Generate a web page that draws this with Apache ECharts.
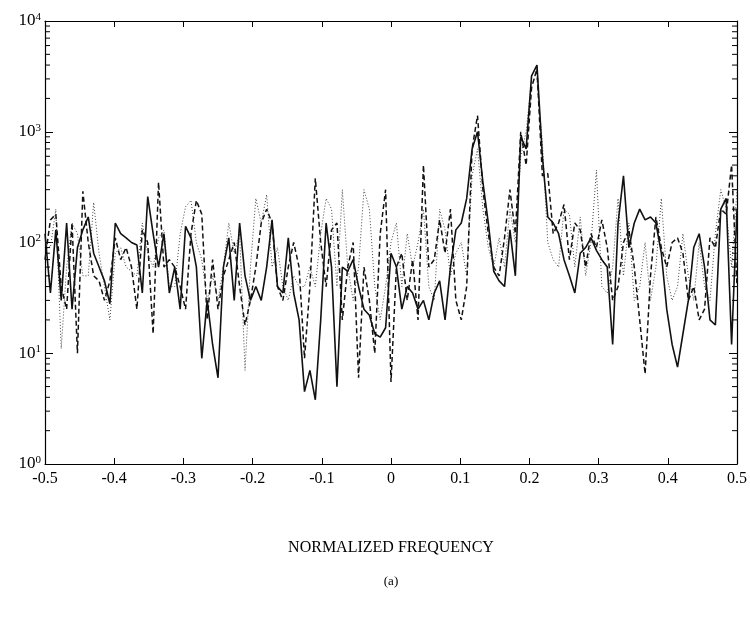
<!DOCTYPE html>
<html>
<head>
<meta charset="utf-8">
<script src="https://cdn.jsdelivr.net/npm/echarts@6/dist/echarts.min.js"></script>
<style>html,body{margin:0;padding:0;background:#fff}#c{width:750px;height:620px}</style>
</head>
<body>
<div id="c"></div>
<script>
// Normalized frequency grid: -0.5 .. 0.5 in steps of 1/128
const N = 128;
const freqs = [];
for (let i = 0; i <= N; i++) freqs.push(-0.5 + i / N);

const xTicks = [-0.5, -0.4, -0.3, -0.2, -0.1, 0, 0.1, 0.2, 0.3, 0.4, 0.5];
const yTicks = [1, 10, 100, 1000, 10000];

const solidValues = [
  120, 35, 130, 30, 150, 25, 90, 130, 170, 80, 60, 45, 28,
  150, 120, 110, 100, 95, 35, 260, 120, 60, 120, 35, 60, 25,
  140, 110, 60, 9, 30, 12, 6, 60, 110, 30, 150, 50, 30,
  40, 30, 60, 160, 40, 35, 110, 35, 20, 4.5, 7, 3.8, 20,
  150, 60, 5, 60, 55, 70, 40, 25, 22, 15, 14, 17, 80,
  60, 25, 40, 35, 25, 30, 20, 35, 45, 20, 60, 130, 150,
  250, 700, 1000, 350, 150, 55, 45, 40, 130, 50, 900, 700, 3200,
  4000, 600, 170, 150, 120, 70, 50, 35, 80, 90, 110, 85, 70,
  60, 12, 150, 400, 90, 150, 200, 160, 170, 150, 80, 25, 12,
  7.5, 15, 30, 90, 120, 60, 20, 18, 200, 250, 12, 200
];
const dashedValues = [
  70, 160, 180, 40, 25, 150, 10, 290, 100, 50, 45, 30, 45,
  110, 70, 90, 60, 25, 130, 100, 15, 350, 60, 70, 60, 40,
  25, 120, 240, 180, 20, 70, 25, 50, 70, 100, 40, 18, 30,
  60, 150, 200, 150, 40, 30, 60, 100, 60, 9, 40, 380, 100,
  40, 130, 150, 20, 60, 100, 6, 60, 30, 10, 120, 300, 5.5,
  60, 80, 30, 70, 20, 500, 60, 70, 160, 80, 200, 30, 20,
  40, 700, 1400, 300, 120, 60, 50, 110, 300, 120, 1000, 500, 2500,
  3700, 400, 420, 120, 150, 220, 70, 150, 130, 60, 120, 90, 160,
  90, 30, 40, 100, 130, 60, 20, 6.5, 50, 170, 90, 60, 100,
  110, 80, 30, 40, 20, 25, 110, 90, 200, 180, 500, 40
];
const dottedValues = [
  100, 90, 200, 11, 60, 150, 120, 50, 50, 230, 80, 40, 20,
  80, 90, 60, 55, 50, 150, 80, 60, 110, 130, 40, 40, 120,
  210, 240, 100, 70, 30, 50, 30, 60, 150, 80, 120, 7, 60,
  250, 150, 270, 60, 90, 40, 30, 50, 40, 40, 60, 40, 120,
  250, 200, 40, 300, 60, 30, 60, 300, 200, 40, 20, 40, 100,
  150, 40, 120, 60, 100, 200, 40, 30, 200, 130, 50, 80, 100,
  50, 400, 700, 200, 90, 60, 110, 60, 200, 100, 600, 1000, 3000,
  3000, 800, 100, 70, 60, 200, 180, 60, 170, 50, 100, 450, 40,
  35, 60, 250, 50, 150, 30, 40, 100, 30, 60, 250, 50, 30,
  40, 120, 50, 30, 100, 40, 30, 120, 300, 200, 60, 300
];

// log minor tick positions (2..9 x 10^k)
const minorTicks = [];
for (let k = 0; k < 4; k++) for (let m = 2; m <= 9; m++) minorTicks.push(m * Math.pow(10, k));

const toPairs = vals => vals.map((v, i) => [freqs[i], v]);
const serif = '"Liberation Serif", "DejaVu Serif", serif';

const chart = echarts.init(document.getElementById('c'), null, {renderer: 'canvas'});
const axisLineStyle = {color: '#000', width: 1.2};
chart.setOption({
  animation: false,
  backgroundColor: '#fff',
  grid: {left: 45, right: 13, top: 21, bottom: 156},
  xAxis: [{
    type: 'value', min: -0.5, max: 0.5, interval: 0.1, position: 'bottom',
    axisLine: {onZero: false, lineStyle: axisLineStyle},
    axisTick: {inside: true, length: 6, lineStyle: {color: '#000'}},
    splitLine: {show: false},
    axisLabel: {
      color: '#000', fontFamily: serif, fontSize: 16, margin: 7,
      formatter: v => { const r = Math.round(v * 10) / 10; return r === 0 ? '0' : r.toFixed(1); }
    }
  }, {
    type: 'value', min: -0.5, max: 0.5, interval: 0.1, position: 'top',
    axisLine: {onZero: false, lineStyle: axisLineStyle},
    axisTick: {inside: true, length: 6, lineStyle: {color: '#000'}},
    splitLine: {show: false}, axisLabel: {show: false}
  }],
  yAxis: [{
    type: 'log', min: 1, max: 10000, logBase: 10, position: 'left',
    axisLine: {show: true, onZero: false, lineStyle: axisLineStyle},
    axisTick: {show: true, inside: true, length: 8, lineStyle: {color: '#000'}},
    splitLine: {show: false},
    axisLabel: {
      color: '#000', fontFamily: serif, fontSize: 17, margin: 4,
      formatter: v => '10{sup|' + Math.round(Math.log10(v)) + '}',
      rich: {sup: {fontFamily: serif, fontSize: 11, verticalAlign: 'top', padding: [0, 0, 8, 0], color: '#000'}}
    }
  }, {
    type: 'log', min: 1, max: 10000, logBase: 10, position: 'right',
    axisLine: {show: true, onZero: false, lineStyle: axisLineStyle},
    axisTick: {show: true, inside: true, length: 8, lineStyle: {color: '#000'}},
    splitLine: {show: false}, axisLabel: {show: false}
  }],
  series: [{
    type: 'line', name: 'solid', data: toPairs(solidValues), showSymbol: false,
    lineStyle: {color: '#111', width: 1.6, type: 'solid'}, z: 4
  }, {
    type: 'line', name: 'dashed', data: toPairs(dashedValues), showSymbol: false,
    lineStyle: {color: '#111', width: 1.5, type: [5, 3]}, z: 3
  }, {
    type: 'line', name: 'dotted', data: toPairs(dottedValues), showSymbol: false,
    lineStyle: {color: '#444', width: 1, type: [1, 2]}, z: 2
  }, {
    type: 'custom', name: 'minorTicks', silent: true, z: 5,
    data: minorTicks.map(v => [-0.5, v]),
    renderItem: (params, api) => {
      const p = api.coord([-0.5, api.value(1)]);
      const cs = params.coordSys;
      return {type: 'group', children: [
        {type: 'line', shape: {x1: cs.x, y1: p[1], x2: cs.x + 5, y2: p[1]}, style: {stroke: '#000', lineWidth: 1}},
        {type: 'line', shape: {x1: cs.x + cs.width, y1: p[1], x2: cs.x + cs.width - 5, y2: p[1]}, style: {stroke: '#000', lineWidth: 1}}
      ]};
    }
  }],
  graphic: [{
    type: 'text', x: 391, y: 548,
    style: {text: 'NORMALIZED FREQUENCY', font: '16px ' + serif, fill: '#000', textAlign: 'center', textVerticalAlign: 'middle'}
  }, {
    type: 'text', x: 391, y: 582,
    style: {text: '(a)', font: '13px ' + serif, fill: '#000', textAlign: 'center', textVerticalAlign: 'middle'}
  }]
});
</script>
</body>
</html>
